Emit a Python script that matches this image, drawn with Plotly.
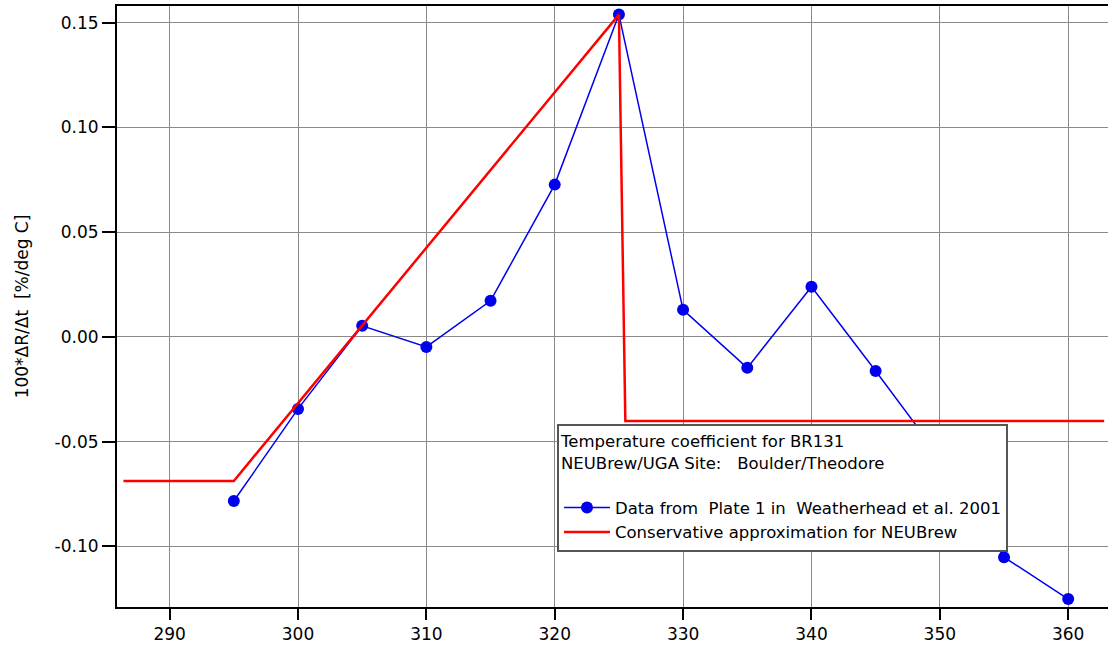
import plotly.graph_objects as go

# Temperature coefficient measurements (wavelength in nm, 100*dR/dt in %/deg C)
wavelength = [295, 300, 305, 310, 315, 320, 325, 330, 335, 340, 345, 350, 355, 360]
coef = [-0.0784, -0.0344, 0.0053, -0.0048, 0.0172, 0.0727, 0.1539,
        0.0129, -0.0148, 0.0239, -0.0163, -0.0574, -0.1052, -0.1252]

# Conservative approximation used for NEUBrew
approx_x = [286.4, 295, 325, 325.5, 362.8]
approx_y = [-0.0688, -0.0688, 0.1539, -0.0402, -0.0402]

x_ticks = [290, 300, 310, 320, 330, 340, 350, 360]
y_ticks = [0.15, 0.10, 0.05, 0.00, -0.05, -0.10]
y_tick_text = ["0.15", "0.10", "0.05", "0.00", "-0.05", "-0.10"]

FONT = "DejaVu Sans"

fig = go.Figure()
fig.add_trace(go.Scatter(
    x=wavelength, y=coef, mode="lines+markers",
    name="Data from\u00a0\u00a0Plate 1 in\u00a0\u00a0Weatherhead et al. 2001",
    line=dict(color="#0000ee", width=1.5),
    marker=dict(color="#0000ee", size=12),
))
fig.add_trace(go.Scatter(
    x=approx_x, y=approx_y, mode="lines",
    name="Conservative approximation for NEUBrew",
    line=dict(color="#ff0000", width=2.5),
))

fig.update_layout(
    width=1110, height=651,
    margin=dict(l=117, r=2, t=6, b=44),
    paper_bgcolor="white", plot_bgcolor="white",
    font=dict(family=FONT, size=16, color="black"),
    showlegend=True,
    legend=dict(
        x=0.444, y=0.3045, xanchor="left", yanchor="top",
        bgcolor="white", bordercolor="#555555", borderwidth=2,
        font=dict(family=FONT, size=16.5, color="black"),
        title=dict(
            text="Temperature coefficient for BR131<br>"
                 "NEUBrew/UGA Site:\u00a0\u00a0\u00a0Boulder/Theodore<br>"
                 "<span style='font-size:6px'>\u00a0</span>",
            side="top",
            font=dict(family=FONT, size=16.5, color="black"),
        ),
        itemwidth=46,
        tracegroupgap=0,
    ),
    xaxis=dict(
        range=[285.9, 363.1],
        tickvals=x_ticks,
        ticktext=[str(v) for v in x_ticks],
        tickfont=dict(family=FONT, size=17),
        showline=True, linecolor="black", linewidth=2, mirror=True,
        ticks="outside", ticklen=11, tickwidth=2, tickcolor="black",
        showgrid=True, gridcolor="#8a8a8a", gridwidth=1,
        zeroline=False,
    ),
    yaxis=dict(
        range=[-0.129, 0.158],
        tickvals=y_ticks,
        ticktext=y_tick_text,
        tickfont=dict(family=FONT, size=17),
        showline=True, linecolor="black", linewidth=2, mirror=False,
        ticks="outside", ticklen=13, tickwidth=2, tickcolor="black",
        showgrid=True, gridcolor="#8a8a8a", gridwidth=1,
        zeroline=False,
        title=dict(text="100*ΔR/Δt\u00a0\u00a0[%/deg C]",
                   font=dict(family=FONT, size=17), standoff=22),
    ),
)

fig.write_html("out.html")
